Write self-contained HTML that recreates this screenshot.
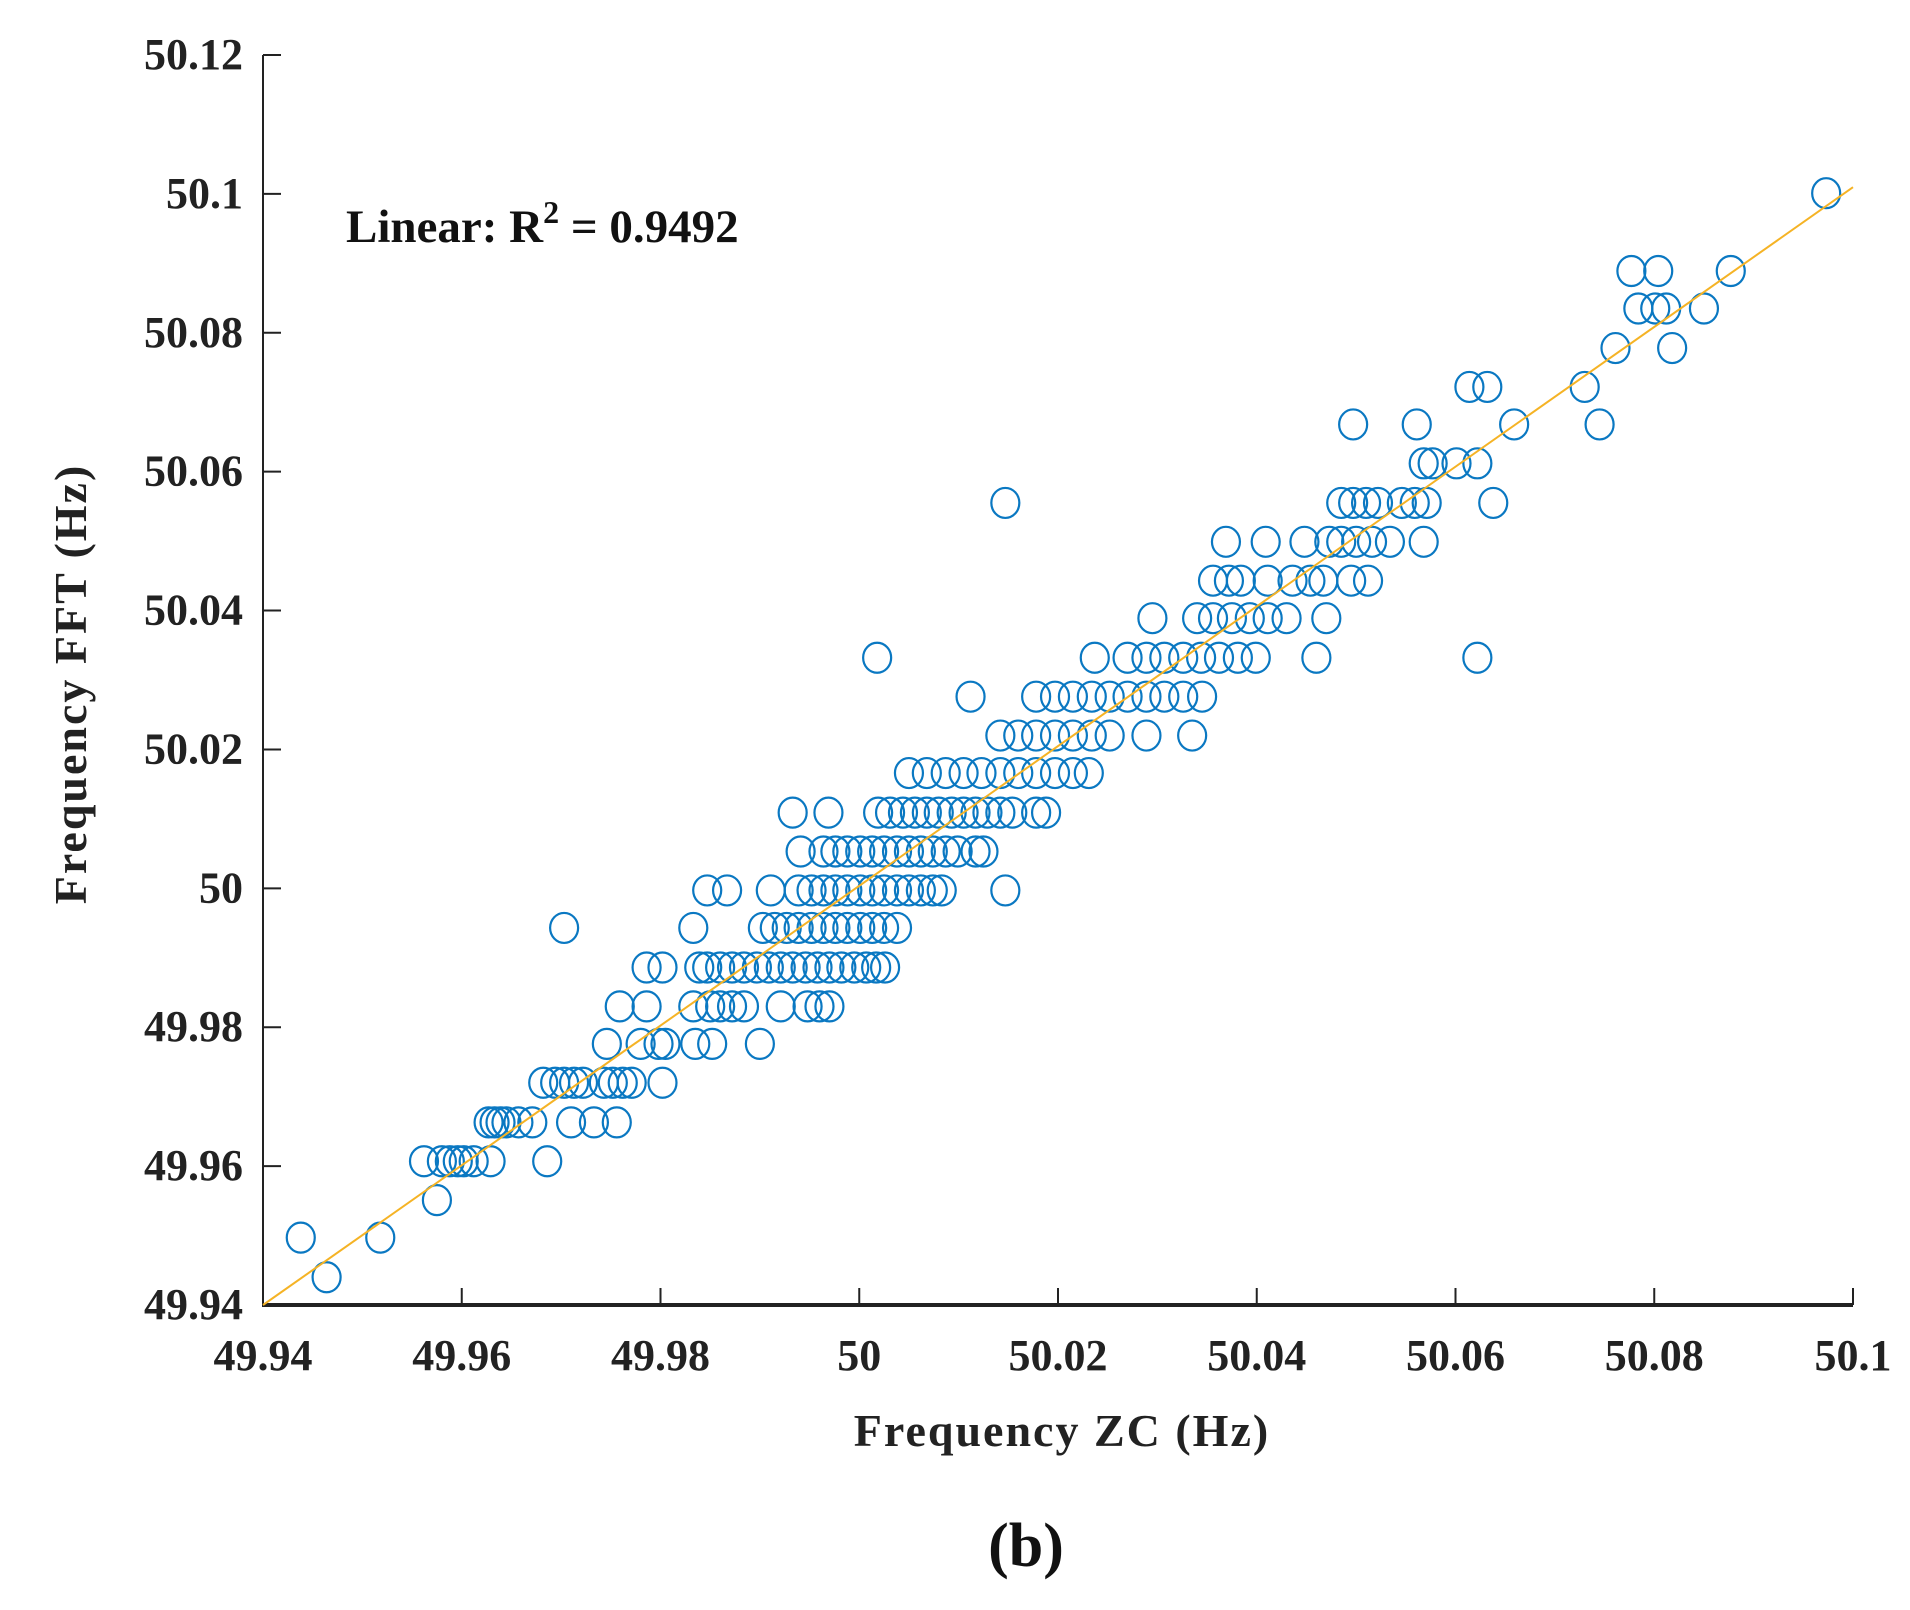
<!DOCTYPE html>
<html><head><meta charset="utf-8"><style>
html,body{margin:0;padding:0;background:#fff;}
svg{display:block;font-family:"Liberation Serif",serif;}
</style></head><body>
<svg id="chart" width="1910" height="1610" viewBox="0 0 1910 1610" xmlns="http://www.w3.org/2000/svg">
<rect width="1910" height="1610" fill="#fff"/>
<g id="axes"></g>
<g id="marks"></g>
<g id="fit"></g>
<text x="346" y="242" font-size="47" font-weight="bold" fill="#111">Linear: R<tspan dy="-19" font-size="32">2</tspan><tspan dy="19"> = 0.9492</tspan></text>
<text x="1062" y="1446" font-size="46" font-weight="bold" text-anchor="middle" fill="#222" letter-spacing="2">Frequency ZC (Hz)</text>
<text transform="translate(86,684) rotate(-90)" font-size="46" font-weight="bold" text-anchor="middle" fill="#222" letter-spacing="2">Frequency FFT (Hz)</text>
<text x="1026" y="1566" font-size="62" font-weight="bold" text-anchor="middle" fill="#111">(b)</text>
</svg>
<script>
const xTicks = [49.94,49.96,49.98,50,50.02,50.04,50.06,50.08,50.1];
const xTickLabels = ["49.94","49.96","49.98","50","50.02","50.04","50.06","50.08","50.1"];
const yTicks = [49.94,49.96,49.98,50,50.02,50.04,50.06,50.08,50.1,50.12];
const yTickLabels = ["49.94","49.96","49.98","50","50.02","50.04","50.06","50.08","50.1","50.12"];
const rowY = [49.944,49.9497,49.9551,49.9607,49.9663,49.972,49.9776,49.983,49.9886,49.9943,49.9997,50.0053,50.0109,50.0166,50.022,50.0276,50.0332,50.0389,50.0443,50.0499,50.0555,50.0612,50.0668,50.0722,50.0778,50.0835,50.0889,50.1001];
const rowX = [
[49.9464],
[49.9438,49.9518],
[49.9575],
[49.9562,49.958,49.9588,49.9596,49.9602,49.9612,49.9629,49.9686],
[49.9627,49.9633,49.9639,49.9645,49.9657,49.9671,49.971,49.9733,49.9756],
[49.9682,49.9694,49.9703,49.9713,49.9722,49.9743,49.9752,49.9762,49.9771,49.9802],
[49.9746,49.978,49.9798,49.9805,49.9835,49.9852,49.99],
[49.9759,49.9786,49.9833,49.985,49.986,49.9872,49.9884,49.9921,49.9948,49.996,49.997],
[49.9786,49.9802,49.9839,49.9847,49.986,49.9872,49.9884,49.9897,49.9909,49.9921,49.9933,49.9946,49.9958,49.997,49.9982,49.9995,50.0007,50.0017,50.0026],
[49.9703,49.9833,49.9903,49.9915,49.9927,49.9939,49.9952,49.9964,49.9976,49.9988,50.0001,50.0013,50.0025,50.0038],
[49.9847,49.9867,49.9911,49.9939,49.9952,49.9964,49.9976,49.9988,50.0001,50.0013,50.0025,50.0038,50.005,50.0062,50.0074,50.0083,50.0147],
[49.9941,49.9964,49.9976,49.9988,50.0001,50.0013,50.0025,50.0038,50.005,50.0062,50.0074,50.0087,50.0099,50.0117,50.0125],
[49.9933,49.9969,50.0019,50.0031,50.0044,50.0056,50.0068,50.008,50.0093,50.0105,50.0117,50.0129,50.0142,50.0154,50.0178,50.0188],
[50.005,50.0068,50.0087,50.0105,50.0123,50.0142,50.016,50.0178,50.0197,50.0215,50.0231],
[50.0142,50.016,50.0178,50.0197,50.0215,50.0234,50.0252,50.0289,50.0335],
[50.0112,50.0178,50.0197,50.0215,50.0234,50.0252,50.027,50.0289,50.0307,50.0326,50.0345],
[50.0018,50.0237,50.027,50.0289,50.0307,50.0326,50.0344,50.0362,50.0381,50.0399,50.046,50.0622],
[50.0295,50.034,50.0356,50.0375,50.0393,50.0411,50.043,50.047],
[50.0356,50.0372,50.0384,50.0411,50.0436,50.0454,50.0467,50.0495,50.0512],
[50.0369,50.0409,50.0448,50.0473,50.0485,50.05,50.0516,50.0534,50.0568],
[50.0147,50.0485,50.0497,50.051,50.0522,50.0546,50.0559,50.0571,50.0638],
[50.0568,50.0577,50.0601,50.0622],
[50.0497,50.0561,50.0659,50.0745],
[50.0614,50.0632,50.073],
[50.0761,50.0818],
[50.0784,50.0801,50.0812,50.085],
[50.0777,50.0804,50.0877],
[50.0973]
];
const fitSlope = 1.006;
const fitIntercept = 49.94 - 1.006*49.94;

const NS='http://www.w3.org/2000/svg';
const X0=263,X1=1853,Y0=1305,Y1=55;
function sx(v){return X0+(v-49.94)/0.16*(X1-X0);}
function sy(v){return Y0-(v-49.94)/0.18*(Y0-Y1);}
function mk(tag,attrs,parent){const e=document.createElementNS(NS,tag);for(const k in attrs)e.setAttribute(k,attrs[k]);parent.appendChild(e);return e;}
const axes=document.getElementById('axes');
let l=mk('line',{x1:X0,y1:Y1,x2:X0,y2:Y0,stroke:'#222','stroke-width':2},axes);


l=mk('line',{x1:X0-1,y1:Y0,x2:X1,y2:Y0,stroke:'#222','stroke-width':4},axes);


xTicks.forEach((v,i)=>{
  const t=mk('line',{x1:sx(v),y1:Y0,x2:sx(v),y2:Y0-17,stroke:'#222','stroke-width':2},axes);
  
  
  const tx=mk('text',{x:sx(v),y:1370,'font-size':44,'font-weight':'bold','text-anchor':'middle',fill:'#222'},axes);
  tx.textContent=xTickLabels[i];
  
  
});
yTicks.forEach((v,i)=>{
  const t=mk('line',{x1:X0,y1:sy(v),x2:X0+18,y2:sy(v),stroke:'#222','stroke-width':2},axes);
  
  
  const tx=mk('text',{x:243,y:sy(v)+14,'font-size':44,'font-weight':'bold','text-anchor':'end',fill:'#222'},axes);
  tx.textContent=yTickLabels[i];
  
  
});
const marks=document.getElementById('marks');
rowY.forEach((yv,r)=>{
  rowX[r].forEach(xv=>{
    const c=mk('ellipse',{cx:sx(xv),cy:sy(yv),rx:14,ry:15,fill:'none',stroke:'#0a78c2','stroke-width':2.2},marks);
    
    
  });
});
const fit=document.getElementById('fit');
const fx0=49.94,fx1=50.1;
const fl=mk('line',{x1:sx(fx0),y1:sy(fitSlope*fx0+fitIntercept),x2:sx(fx1),y2:sy(fitSlope*fx1+fitIntercept),stroke:'#f5b325','stroke-width':2},fit);


</script>
</body></html>
